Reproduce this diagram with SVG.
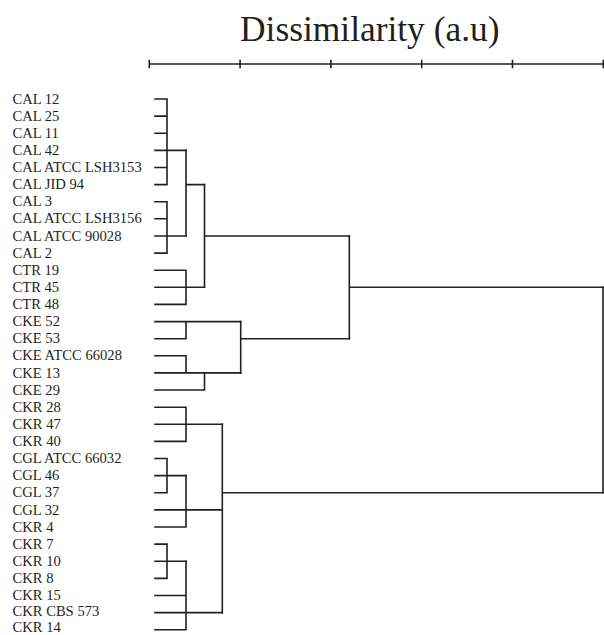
<svg xmlns="http://www.w3.org/2000/svg" width="604" height="635" viewBox="0 0 604 635">
  <style>
    .lbl { font-family: "Liberation Serif", "Times New Roman", serif; font-size: 14.6px; fill: #231f20; }
    .title { font-family: "Liberation Serif", "Times New Roman", serif; font-size: 35.4px; fill: #231f20; }
    .ln { fill: none; stroke: #231f20; stroke-width: 1.6; stroke-linecap: square; stroke-linejoin: miter; }
  </style>
  <rect width="604" height="635" fill="#ffffff"/>

  <!-- title and scale bar -->
  <g id="axis">
    <text class="title" x="240" y="41">Dissimilarity (a.u)</text>
    <path class="ln" d="M149.3 64H603.3 M149.3 60.5V67.5 M240.1 60.5V67.5 M330.9 60.5V67.5 M421.7 60.5V67.5 M512.5 60.5V67.5 M603.3 60.5V67.5"/>
  </g>

  <!-- leaf labels -->
  <g id="leaf-cal12"><text class="lbl" x="12.5" y="103.6">CAL 12</text></g>
  <g id="leaf-cal25"><text class="lbl" x="12.5" y="120.7">CAL 25</text></g>
  <g id="leaf-cal11"><text class="lbl" x="12.5" y="137.8">CAL 11</text></g>
  <g id="leaf-cal42"><text class="lbl" x="12.5" y="155.0">CAL 42</text></g>
  <g id="leaf-cal-lsh3153"><text class="lbl" x="12.5" y="172.1">CAL ATCC LSH3153</text></g>
  <g id="leaf-cal-jid94"><text class="lbl" x="12.5" y="189.2">CAL JID 94</text></g>
  <g id="leaf-cal3"><text class="lbl" x="12.5" y="206.3">CAL 3</text></g>
  <g id="leaf-cal-lsh3156"><text class="lbl" x="12.5" y="223.4">CAL ATCC LSH3156</text></g>
  <g id="leaf-cal-90028"><text class="lbl" x="12.5" y="240.6">CAL ATCC 90028</text></g>
  <g id="leaf-cal2"><text class="lbl" x="12.5" y="257.7">CAL 2</text></g>
  <g id="leaf-ctr19"><text class="lbl" x="12.5" y="274.8">CTR 19</text></g>
  <g id="leaf-ctr45"><text class="lbl" x="12.5" y="291.9">CTR 45</text></g>
  <g id="leaf-ctr48"><text class="lbl" x="12.5" y="309.0">CTR 48</text></g>
  <g id="leaf-cke52"><text class="lbl" x="12.5" y="326.2">CKE 52</text></g>
  <g id="leaf-cke53"><text class="lbl" x="12.5" y="343.3">CKE 53</text></g>
  <g id="leaf-cke-66028"><text class="lbl" x="12.5" y="360.4">CKE ATCC 66028</text></g>
  <g id="leaf-cke13"><text class="lbl" x="12.5" y="377.5">CKE 13</text></g>
  <g id="leaf-cke29"><text class="lbl" x="12.5" y="394.6">CKE 29</text></g>
  <g id="leaf-ckr28"><text class="lbl" x="12.5" y="411.8">CKR 28</text></g>
  <g id="leaf-ckr47"><text class="lbl" x="12.5" y="428.9">CKR 47</text></g>
  <g id="leaf-ckr40"><text class="lbl" x="12.5" y="446.0">CKR 40</text></g>
  <g id="leaf-cgl-66032"><text class="lbl" x="12.5" y="463.1">CGL ATCC 66032</text></g>
  <g id="leaf-cgl46"><text class="lbl" x="12.5" y="480.2">CGL 46</text></g>
  <g id="leaf-cgl37"><text class="lbl" x="12.5" y="497.4">CGL 37</text></g>
  <g id="leaf-cgl32"><text class="lbl" x="12.5" y="514.5">CGL 32</text></g>
  <g id="leaf-ckr4"><text class="lbl" x="12.5" y="531.6">CKR 4</text></g>
  <g id="leaf-ckr7"><text class="lbl" x="12.5" y="548.7">CKR 7</text></g>
  <g id="leaf-ckr10"><text class="lbl" x="12.5" y="565.8">CKR 10</text></g>
  <g id="leaf-ckr8"><text class="lbl" x="12.5" y="582.9">CKR 8</text></g>
  <g id="leaf-ckr15"><text class="lbl" x="12.5" y="599.6">CKR 15</text></g>
  <g id="leaf-ckr-cbs573"><text class="lbl" x="12.5" y="615.6">CKR CBS 573</text></g>
  <g id="leaf-ckr14"><text class="lbl" x="12.5" y="631.6">CKR 14</text></g>

  <!-- dendrogram branches -->
  <g id="connectors">
    <!-- C. albicans, first subcluster -->
    <path class="ln" d="M155 99H167 M155 116.1H167 M155 133.2H167 M155 150.4H186 M155 167.5H167 M155 184.6H167 M167 99V184.6"/>
    <!-- C. albicans, second subcluster -->
    <path class="ln" d="M155 201.7H167 M155 218.8H167 M155 236H186 M155 253.1H167 M167 201.7V253.1"/>
    <path class="ln" d="M186 150.4V236 M186 184.6H204.5"/>
    <!-- C. tropicalis -->
    <path class="ln" d="M155 270.2H186 M155 287.3H204.5 M155 304.4H186 M186 270.2V304.4"/>
    <path class="ln" d="M204.5 184.6V287.3 M204.5 236H349.3"/>
    <!-- C. kefyr -->
    <path class="ln" d="M155 321.6H240.7 M155 338.7H186 M186 321.6V338.7"/>
    <path class="ln" d="M155 355.8H186 M155 372.9H240.7 M186 355.8V372.9 M155 390H204.5 M204.5 372.9V390"/>
    <path class="ln" d="M240.7 321.6V372.9 M240.7 338.7H349.3"/>
    <path class="ln" d="M349.3 236V338.7 M349.3 287.3H603"/>
    <!-- C. krusei / C. glabrata -->
    <path class="ln" d="M155 407.2H186 M155 424.3H222.3 M155 441.4H186 M186 407.2V441.4"/>
    <path class="ln" d="M155 458.5H167 M155 475.6H186 M155 492.8H167 M167 458.5V492.8"/>
    <path class="ln" d="M155 509.9H222.3 M155 527H186 M186 475.6V527"/>
    <path class="ln" d="M155 544.1H167 M155 561.2H186 M155 578.4H167 M167 544.1V578.4"/>
    <path class="ln" d="M155 595.5H186 M155 612.6H222.3 M155 629.7H186 M186 561.2V629.7"/>
    <path class="ln" d="M222.3 424.3V612.6 M222.3 492.8H603"/>
    <!-- root -->
    <path class="ln" d="M603 287.3V492.8"/>
  </g>
</svg>
